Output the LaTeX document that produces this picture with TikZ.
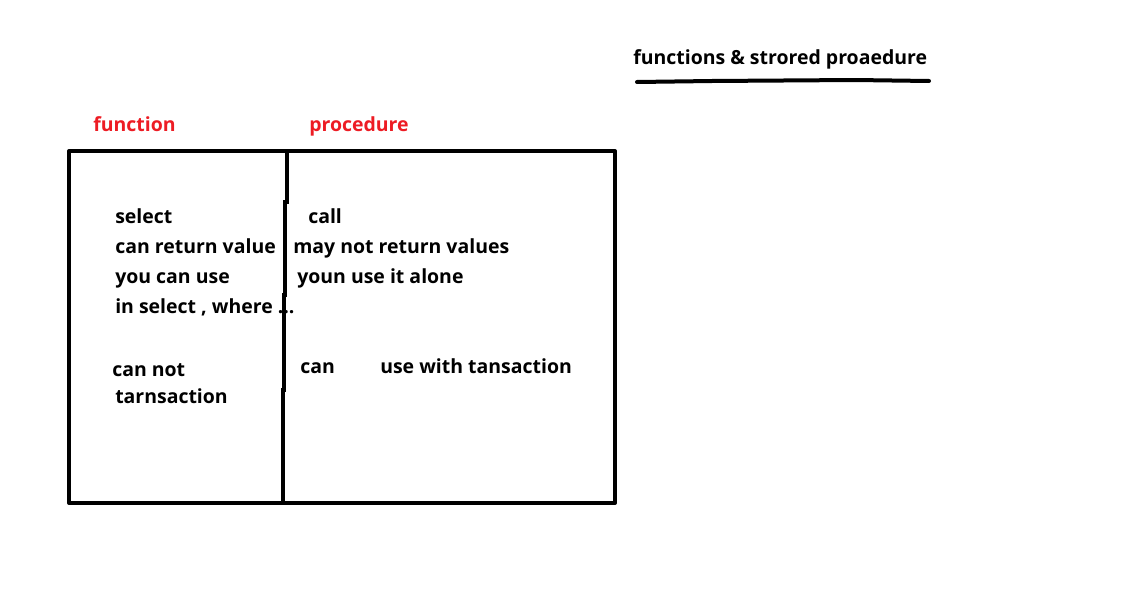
\documentclass[tikz,border=0pt]{standalone}
\usepackage{fontspec}
\setmainfont{Open Sans}
\definecolor{paintred}{RGB}{237,28,36}
\begin{document}
\begin{tikzpicture}[x=0.75pt, y=-0.75pt, line join=round, line cap=round,
  txt/.style={anchor=base west, inner sep=0pt, font=\fontsize{14.6}{17}\selectfont\bfseries},
  head/.style={txt, text=paintred}]
\useasboundingbox (0,0) rectangle (1128,614);
% title
\node[txt] (title) at (633,64) {functions \& strored proaedure};
\draw[line width=3pt] (637,82) -- (712,81) -- (855,80) -- (929,81);
% column heads
\node[head] (fhead) at (93,131) {function};
\node[head] (phead) at (309,131) {procedure};
% table
\draw[line width=3pt] (69,151) rectangle (615,503);
\draw[line width=3pt, line cap=rect] (287,151) -- (287,202) (285,202) -- (285,295) (284,295) -- (284,390) (283,390) -- (283,503);
% function column
\node[txt] (fsel) at (115,223) {select};
\node[txt] (fret) at (115,253) {can return value};
\node[txt] (fuse) at (115,283) {you can use};
\node[txt] (fin) at (115,313) {in select , where ...};
\node[txt] (fcan) at (112,376) {can not};
\node[txt] (ftr) at (115,403) {tarnsaction};
% procedure column
\node[txt] (pcall) at (308,223) {call};
\node[txt] (pret) at (293,253) {may not return values};
\node[txt] (puse) at (297,283) {youn use it alone};
\node[txt] (pcan) at (300,373) {can};
\node[txt] (ptr) at (380,373) {use with tansaction};
\end{tikzpicture}
\end{document}
